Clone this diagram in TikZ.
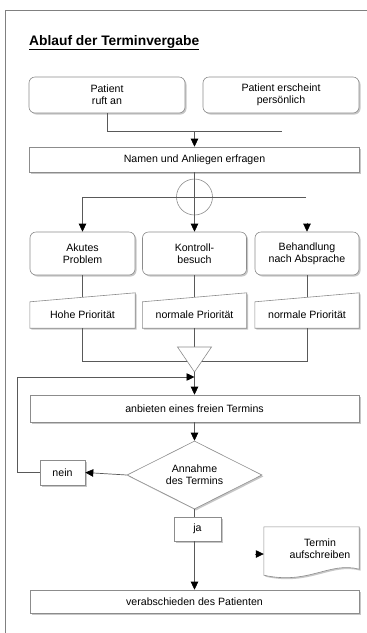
\documentclass[tikz,border=0pt]{standalone}
\usepackage{fontspec}
\setmainfont{Liberation Sans}
\usetikzlibrary{shapes.geometric,shadows,calc,arrows.meta}
\begin{document}
\begin{tikzpicture}[x=1pt,y=-1pt,
  font=\fontsize{10.6}{12.3}\selectfont,
  shad/.style={drop shadow={shadow xshift=1.5pt,shadow yshift=-1.5pt,fill=black!22,opacity=1}},
  box/.style={draw=black!45,line width=0.6pt,fill=white,minimum width=#1,inner sep=0pt,align=center,shad},
  rbox/.style={box=#1,rounded corners=6pt},
  plain/.style={inner sep=0pt,align=center,minimum width=#1},
  conn/.style={draw=black!65,line width=0.7pt},
  arr/.style={conn,-{Triangle[length=8pt,width=7.5pt,fill=black,color=black]}},
]
\useasboundingbox (0,0) rectangle (367,633);
% frame
\draw[black!50,line width=0.8pt] (5,640) -- (5,10) -- (370,10);
% title
\node[anchor=base west,inner sep=0pt,font=\fontsize{13.8}{15}\selectfont\bfseries] (title) at (29,45) {\underline{Ablauf der Terminvergabe}};
% top boxes
\node[rbox=156,minimum height=36] (ruft) at (107,95) {Patient\\ruft an};
\node[rbox=156,minimum height=36] (pers) at (281,95) {Patient erscheint\\persönlich};
\node[box=330,minimum height=25] (namen) at (194.5,159.5) {Namen und Anliegen erfragen};
\node[draw=black!45,line width=0.6pt,circle,minimum size=36,inner sep=0pt] (circ) at (194.5,197) {};
% middle boxes
\node[rbox=105,minimum height=43] (akut) at (82.5,253.5) {Akutes\\Problem};
\node[rbox=104,minimum height=43] (kontr) at (194.5,253.5) {Kontroll-\\besuch};
\node[rbox=104,minimum height=43] (behan) at (307,253.5) {Behandlung\\nach Absprache};
% priority (manual input shapes)
\node[plain=105,minimum height=26] (hp) at (82.5,315) {};
\node[plain=104,minimum height=26] (np1) at (194.5,315) {};
\node[plain=104,minimum height=26] (np2) at (307,315) {};
\foreach \n in {hp,np1,np2}{
  \filldraw[draw=black!45,line width=0.6pt,fill=white,shad]
   (\n.south west) -- (\n.north west) -- ($(\n.north east)+(0,-9)$) -- (\n.south east) -- cycle;
}
\node[plain=105] (hpt) at (hp) {Hohe Priorität};
\node[plain=104] (np1t) at (np1) {normale Priorität};
\node[plain=104] (np2t) at (np2) {normale Priorität};
% connectors top
\coordinate (jm) at (194.5,131);
\coordinate (jr) at (282,131);
\draw[conn] (ruft.south) |- (jr);
\draw[arr] (jm) -- (namen.north);
\coordinate (hr) at (306,197);
\draw[conn] (namen.south) -- (circ.south);
\draw[arr] (circ.south) -- (kontr.north);
\draw[arr] (hr) -- (akut.north |- circ.center) -- (akut.north);
\draw[arr] ($(behan.north)+(0,-9)$) -- (behan.north);
% to priority
\draw[conn] (akut.south) -- ($(hp.north)+(0,-4.5)$);
\draw[conn] (kontr.south) -- ($(np1.north)+(0,-4.5)$);
\draw[conn] (behan.south) -- ($(np2.north)+(0,-4.5)$);
% merge
\coordinate (mt) at (194.5,347);
\coordinate (ma) at (194.5,372);
\draw[conn] (hp.south) |- (np2.south |- 0,361) -- (np2.south);
\draw[conn] (np1.south) -- (mt);
\filldraw[draw=black!45,line width=0.6pt,fill=white] (177.5,347) -- (211.5,347) -- (ma) -- cycle;
% lower
\node[box=329,minimum height=27] (anb) at (194.5,408.5) {anbieten eines freien Termins};
\draw[arr] (ma) -- (anb.north);
\node[draw=black!45,line width=0.6pt,fill=white,diamond,aspect=2,minimum width=135,minimum height=68,inner sep=0pt,align=center,shad] (dia) at (194.5,475) {Annahme\\des Termins};
\draw[arr] (anb.south) -- (dia.north);
\node[box=45,minimum height=25] (nein) at (62.5,472.5) {nein};
\draw[arr] (dia.west) -- (nein.east);
\coordinate (fb) at (194.5,377);
\draw[arr] (nein.west) -- (17,472.5) -- (17,377) -- (fb);
\node[box=47,minimum height=24] (ja) at (197.5,529) {ja};
\draw[conn] (dia.south) -- (dia.south |- ja.north);
\node[box=329,minimum height=23] (verab) at (194.5,601.5) {verabschieden des Patienten};
\draw[arr] (dia.south |- ja.south) -- (verab.north);
% document
\node[plain=95,minimum height=46] (doc) at (311.5,550) {};
\filldraw[draw=black!45,line width=0.6pt,fill=white,shad]
  (doc.north west) -- (doc.north east) -- ($(doc.south east)+(0,-4)$)
  .. controls ($(doc.south east)+(-30,-12)$) and ($(doc.south west)+(45,12)$) .. ($(doc.south west)+(0,2)$) -- cycle;
\node[inner sep=0pt,align=center] (doct) at (320,549) {Termin\\aufschreiben};
\draw[arr] ($(doc.west)+(-9,4)$) -- ($(doc.west)+(0,4)$);
\end{tikzpicture}
\end{document}
